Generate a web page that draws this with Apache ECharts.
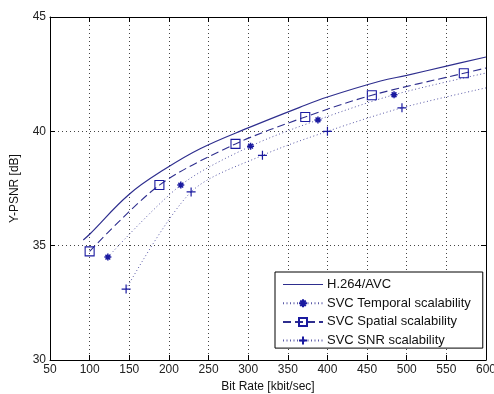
<!DOCTYPE html>
<html>
<head>
<meta charset="utf-8">
<script src="https://cdn.jsdelivr.net/npm/echarts@6/dist/echarts.min.js"></script>
<style>
html,body{margin:0;padding:0;background:#fff;}
#chart{width:494px;height:394px;}
</style>
</head>
<body>
<div id="chart"></div>
<script>
// ---- data ----
var seriesNames = ['H.264/AVC', 'SVC Temporal scalability', 'SVC Spatial scalability', 'SVC SNR scalability'];

// H.264/AVC curve (no markers)
var h264X = [92, 100, 150, 195, 240, 300, 365, 400, 467, 500, 550, 600];
var h264Y = [35.25, 35.5, 37.25, 38.35, 39.25, 40.15, 41.05, 41.5, 42.2, 42.45, 42.85, 43.25];

// SVC Temporal: markers + curve end
var temporalX = [123, 215, 303, 388, 484];
var temporalY = [34.5, 37.65, 39.35, 40.5, 41.6];
var temporalEndX = [600];
var temporalEndY = [42.55];

// SVC Spatial: markers + curve end
var spatialX = [100, 188, 284, 372, 456, 572];
var spatialY = [34.75, 37.65, 39.45, 40.63, 41.58, 42.54];
var spatialEndX = [600];
var spatialEndY = [42.77];

// SVC SNR: markers + curve end
var snrX = [146, 228, 318, 400, 494];
var snrY = [33.1, 37.35, 38.95, 40.0, 41.03];
var snrEndX = [600];
var snrEndY = [41.9];

var xTicks = [50, 100, 150, 200, 250, 300, 350, 400, 450, 500, 550, 600];
var yTicks = [30, 35, 40, 45];

// ---- build ----
function curve(xs, ys) {
  return xs.map(function (x, i) { return [x, ys[i]]; });
}
function withMarkers(mx, my, ex, ey) {
  var pts = mx.map(function (x, i) { return { value: [x, my[i]] }; });
  ex.forEach(function (x, i) { pts.push({ value: [x, ey[i]], symbol: 'none' }); });
  pts.sort(function (a, b) { return a.value[0] - b.value[0]; });
  return pts;
}

var lineCol = '#2e2e8e';
var markCol = '#1a1aa0';
var starPath = 'path://M5,0L5,10M0,5L10,5M1.6,1.6L8.4,8.4M8.4,1.6L1.6,8.4';
var plusPath = 'path://M5,0L5,10M0,5L10,5';
var rectPath = 'path://M0,0L10,0L10,10L0,10Z';
var solidIcon = 'path://M0,0L40,0L40,1.1L0,1.1Z';

var fontFam = 'Liberation Sans, Arial, sans-serif';
var axisLabelStyle = { color: '#222', fontFamily: fontFam, fontSize: 12 };
var gridLine = { show: true, lineStyle: { color: '#444', type: [1, 3], width: 1 } };

var legendData = seriesNames.map(function (n, i) {
  return i === 0 ? { name: n, icon: solidIcon } : { name: n };
});

var chart = echarts.init(document.getElementById('chart'), null, { renderer: 'canvas' });
chart.setOption({
  animation: false,
  backgroundColor: '#fff',
  grid: { left: 50, right: 8, top: 17, bottom: 34, containLabel: false, outerBoundsMode: 'none' },
  xAxis: [{
    type: 'value', min: xTicks[0], max: xTicks[xTicks.length - 1], interval: 50,
    name: 'Bit Rate [kbit/sec]', nameLocation: 'middle', nameGap: 19,
    nameTextStyle: { color: '#111', fontFamily: fontFam, fontSize: 12 },
    axisLine: { show: true, onZero: false, lineStyle: { color: '#000', width: 1 } },
    axisTick: { show: true, inside: true, length: 5, lineStyle: { color: '#000' } },
    axisLabel: Object.assign({ margin: 4 }, axisLabelStyle),
    splitLine: gridLine
  }, {
    type: 'value', position: 'top', min: xTicks[0], max: xTicks[xTicks.length - 1], interval: 50,
    axisLine: { show: true, onZero: false, lineStyle: { color: '#000', width: 1 } },
    axisTick: { show: true, inside: true, length: 5, lineStyle: { color: '#000' } },
    axisLabel: { show: false }, splitLine: { show: false }
  }],
  yAxis: [{
    type: 'value', min: yTicks[0], max: yTicks[yTicks.length - 1], interval: 5,
    name: 'Y-PSNR [dB]', nameLocation: 'middle', nameGap: 29,
    nameTextStyle: { color: '#111', fontFamily: fontFam, fontSize: 12 },
    axisLine: { show: true, onZero: false, lineStyle: { color: '#000', width: 1 } },
    axisTick: { show: true, inside: true, length: 5, lineStyle: { color: '#000' } },
    axisLabel: Object.assign({ margin: 4 }, axisLabelStyle),
    splitLine: gridLine
  }, {
    type: 'value', position: 'right', min: yTicks[0], max: yTicks[yTicks.length - 1], interval: 5,
    axisLine: { show: true, onZero: false, lineStyle: { color: '#000', width: 1 } },
    axisTick: { show: true, inside: true, length: 5, lineStyle: { color: '#000' } },
    axisLabel: { show: false }, splitLine: { show: false }
  }],
  legend: {
    orient: 'vertical', left: 275, top: 272,
    backgroundColor: '#fff', borderColor: '#000', borderWidth: 1,
    padding: [6, 12, 1, 7], itemGap: 5.7, itemWidth: 40, itemHeight: 10,
    textStyle: { color: '#111', fontFamily: fontFam, fontSize: 13, padding: [0, 0, 0, -1] },
    data: legendData
  },
  series: [{
    name: seriesNames[0], type: 'line', smooth: 0.4, symbol: 'none',
    data: curve(h264X, h264Y),
    lineStyle: { color: lineCol, width: 1.2, type: 'solid' },
    itemStyle: { color: lineCol }
  }, {
    name: seriesNames[1], type: 'line', smooth: 0.3,
    symbol: starPath, symbolSize: 7, showAllSymbol: true,
    data: withMarkers(temporalX, temporalY, temporalEndX, temporalEndY),
    lineStyle: { color: '#5a5aa8', width: 1, type: [1, 2.5] },
    itemStyle: { color: 'none', borderColor: markCol, borderWidth: 1.5 }
  }, {
    name: seriesNames[2], type: 'line', smooth: 0.3,
    symbol: rectPath, symbolSize: 9, showAllSymbol: true,
    data: withMarkers(spatialX, spatialY, spatialEndX, spatialEndY),
    lineStyle: { color: lineCol, width: 1.1, type: [8, 4] },
    itemStyle: { color: 'none', borderColor: markCol, borderWidth: 1.1 }
  }, {
    name: seriesNames[3], type: 'line', smooth: 0.3,
    symbol: plusPath, symbolSize: 9, showAllSymbol: true,
    data: withMarkers(snrX, snrY, snrEndX, snrEndY),
    lineStyle: { color: '#5a5aa8', width: 1, type: [1, 2.5] },
    itemStyle: { color: 'none', borderColor: markCol, borderWidth: 1.2 }
  }]
});
</script>
</body>
</html>
